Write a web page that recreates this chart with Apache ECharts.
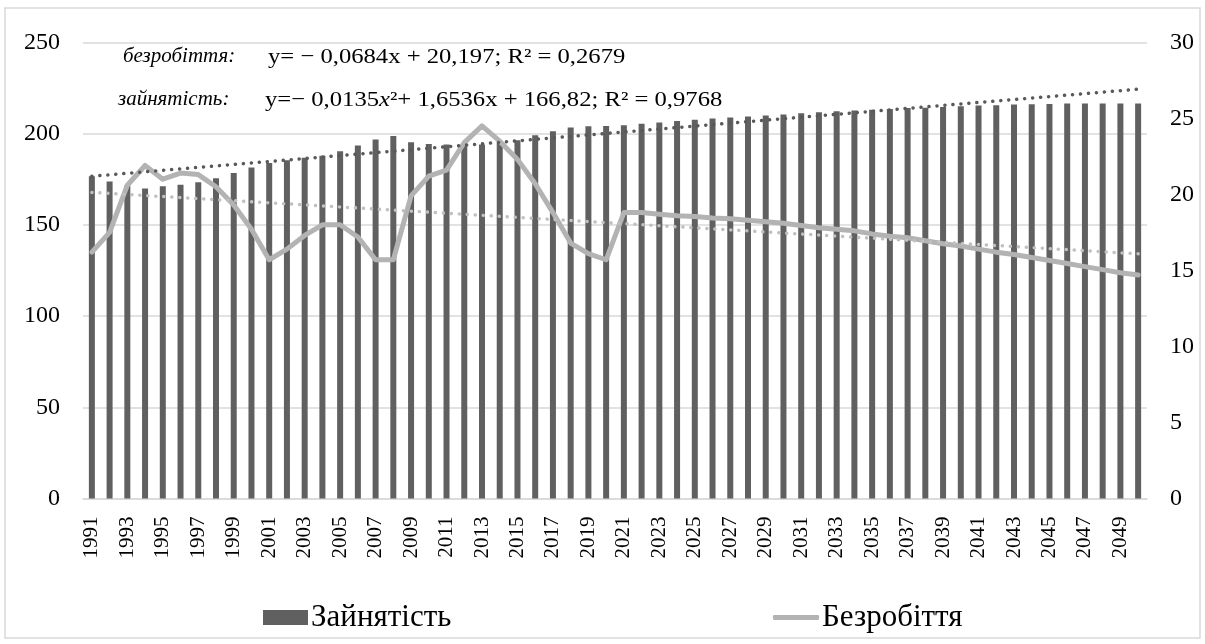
<!DOCTYPE html>
<html>
<head>
<meta charset="utf-8">
<script src="https://cdn.jsdelivr.net/npm/echarts@6/dist/echarts.min.js"></script>
<style>
  html, body { margin: 0; padding: 0; background: #ffffff; }
  #chart { width: 1205px; height: 644px; }
</style>
</head>
<body>
<div id="chart"></div>
<script>
// Роки спостереження та прогнозу
const years = [
  '1991','1992','1993','1994','1995','1996','1997','1998','1999','2000',
  '2001','2002','2003','2004','2005','2006','2007','2008','2009','2010',
  '2011','2012','2013','2014','2015','2016','2017','2018','2019','2020',
  '2021','2022','2023','2024','2025','2026','2027','2028','2029','2030',
  '2031','2032','2033','2034','2035','2036','2037','2038','2039','2040',
  '2041','2042','2043','2044','2045','2046','2047','2048','2049','2050'
];

// Зайнятість (ліва вісь)
const employment = [
  176.6, 173.7, 171.5, 169.9, 171.1, 171.9, 173.3, 175.5, 178.4, 181.4,
  183.9, 185.4, 186.7, 187.8, 190.3, 193.4, 196.7, 198.7, 195.2, 194.2,
  194.0, 193.8, 194.0, 195.0, 196.3, 199.0, 201.2, 203.3, 204.0, 204.2,
  204.5, 205.3, 206.0, 206.9, 207.6, 208.2, 208.8, 209.3, 209.9, 210.4,
  211.1, 211.7, 212.2, 212.6, 213.1, 213.5, 214.0, 214.2, 214.6, 215.0,
  215.3, 215.5, 215.9, 216.0, 216.2, 216.4, 216.4, 216.5, 216.5, 216.5
];

// Безробіття (права вісь)
const unemployment = [
  16.2, 17.5, 20.6, 21.9, 21.0, 21.4, 21.3, 20.5, 19.3, 17.7,
  15.7, 16.4, 17.3, 18.0, 18.0, 17.2, 15.7, 15.7, 19.9, 21.2,
  21.6, 23.4, 24.5, 23.5, 22.3, 20.7, 18.8, 16.8, 16.1, 15.7,
  18.8, 18.8, 18.7, 18.6, 18.55, 18.45, 18.4, 18.3, 18.2, 18.1,
  17.95, 17.8, 17.7, 17.6, 17.4, 17.25, 17.15, 16.95, 16.75, 16.6,
  16.4, 16.2, 16.05, 15.85, 15.65, 15.45, 15.25, 15.05, 14.85, 14.7
];

// Лінії тренду: значення на першому та останньому роках
const employmentTrend = [176.6, 224.3];
const unemploymentTrend = [20.13, 16.09];

// Осі
const leftTicks = { min: 0, max: 250, interval: 50 };
const rightTicks = { min: 0, max: 30, interval: 5 };

const serif = '"Liberation Serif", "Times New Roman", serif';
const last = years.length - 1;

const chart = echarts.init(document.getElementById('chart'), null, { renderer: 'canvas' });

chart.setOption({
  animation: false,
  backgroundColor: '#ffffff',
  textStyle: { fontFamily: serif },
  grid: { left: 83, right: 58, top: 42.3, bottom: 145.5, containLabel: false },
  legend: [
    {
      data: [{ name: 'Зайнятість', icon: 'rect' }],
      left: 258, top: 597,
      itemWidth: 45, itemHeight: 15,
      itemGap: 4,
      textStyle: { fontFamily: serif, fontSize: 31, color: '#000000', padding: [0, 0, 0, -2] }
    },
    {
      data: [{ name: 'Безробіття', icon: 'roundRect' }],
      left: 768, top: 597,
      itemWidth: 46, itemHeight: 5,
      textStyle: { fontFamily: serif, fontSize: 31, color: '#000000', padding: [0, 0, 0, -2] }
    }
  ],
  xAxis: {
    type: 'category',
    data: years,
    boundaryGap: true,
    axisLine: { show: true, lineStyle: { color: '#d9d9d9', width: 1.5 } },
    axisTick: { show: false },
    axisLabel: {
      interval: 1,
      rotate: 90,
      margin: 18,
      fontFamily: serif,
      fontSize: 21,
      color: '#000000'
    }
  },
  yAxis: [
    {
      type: 'value',
      min: leftTicks.min, max: leftTicks.max, interval: leftTicks.interval,
      axisLine: { show: false },
      axisTick: { show: false },
      axisLabel: { margin: 23, fontFamily: serif, fontSize: 24, color: '#000000' },
      splitLine: { show: true, lineStyle: { color: '#d9d9d9', width: 1.5 } }
    },
    {
      type: 'value',
      min: rightTicks.min, max: rightTicks.max, interval: rightTicks.interval,
      axisLine: { show: false },
      axisTick: { show: false },
      axisLabel: { margin: 23, fontFamily: serif, fontSize: 24, color: '#000000' },
      splitLine: { show: false }
    }
  ],
  series: [
    {
      name: 'Зайнятість',
      type: 'bar',
      yAxisIndex: 0,
      data: employment,
      barWidth: 6,
      itemStyle: { color: '#606060' },
      z: 2
    },
    {
      name: 'Безробіття',
      type: 'line',
      yAxisIndex: 1,
      data: unemployment,
      symbol: 'none',
      smooth: false,
      lineStyle: { color: '#b3b3b3', width: 5, join: 'round', cap: 'round' },
      itemStyle: { color: '#b3b3b3' },
      z: 3
    },
    {
      name: 'Тренд безробіття',
      type: 'line',
      yAxisIndex: 1,
      data: [[0, unemploymentTrend[0]], [last, unemploymentTrend[1]]],
      symbol: 'none',
      lineStyle: { color: '#c0c0c0', width: 3.5, type: [0.1, 7.9], cap: 'round' },
      silent: true,
      z: 4
    },
    {
      name: 'Тренд зайнятості',
      type: 'line',
      yAxisIndex: 0,
      data: [[0, employmentTrend[0]], [last, employmentTrend[1]]],
      symbol: 'none',
      lineStyle: { color: '#595959', width: 3.5, type: [0.1, 7.9], cap: 'round' },
      silent: true,
      z: 4
    }
  ],
  graphic: [
    {
      type: 'rect',
      shape: { x: 5, y: 8, width: 1195, height: 630 },
      style: { fill: 'none', stroke: '#d9d9d9', lineWidth: 1.5 },
      silent: true,
      z: -1
    },
    {
      type: 'text',
      left: 123, top: 47,
      scaleX: 1.05,
      style: {
        text: 'безробіття:',
        font: 'italic 20px ' + serif,
        fill: '#000000'
      }
    },
    {
      type: 'text',
      left: 268, top: 46,
      scaleX: 1.12,
      style: {
        text: 'y= − 0,0684x + 20,197; R² = 0,2679',
        font: '22px ' + serif,
        fill: '#000000'
      }
    },
    {
      type: 'text',
      left: 118, top: 90,
      scaleX: 1.05,
      style: {
        text: 'зайнятість:',
        font: 'italic 20px ' + serif,
        fill: '#000000'
      }
    },
    {
      type: 'text',
      left: 265, top: 89,
      scaleX: 1.12,
      style: {
        text: '{n|y=− 0,0135}{i|x}{n|²+ 1,6536x + 166,82; R² = 0,9768}',
        rich: {
          n: { font: '22px ' + serif, fill: '#000000' },
          i: { font: 'italic 22px ' + serif, fill: '#000000' }
        },
        font: '22px ' + serif,
        fill: '#000000'
      }
    }
  ]
});
</script>
</body>
</html>
